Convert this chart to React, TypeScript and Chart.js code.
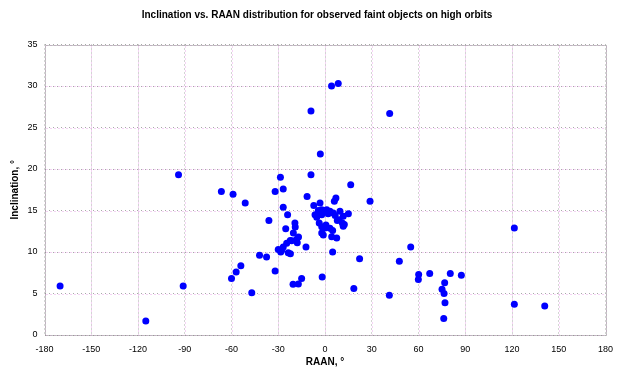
import React, { useEffect, useRef } from "react";
import { Chart, registerables } from "chart.js";

Chart.register(...registerables);

const TITLE = "Inclination vs. RAAN distribution for observed faint objects on high orbits";
const X_TITLE = "RAAN, °";
const Y_TITLE = "Inclination, °";

// RAAN (deg)
const raan: number[] = [
  -170, -115, -94, -91, -66.5, -59, -51.2, -54, -57, -60, -47, -42, -37.5, -36, -32, -32,
  -28.6, -26.8, -26.8, -24, -20.5, -17.1, -15, -9, -11.5, -7.2, -3.2, -3, -9, 4.2, 8.5, 41.5,
  -1.8, -12.2, 4.9, 7, 6, 16.5, 28.9, 15, 22.2, 18.5, 41.3, 47.7, 55, 60.1, 59.9, 67.2,
  80.4, 87.5, 76.8, 75.1, 76.4, 77, 76.2, 121.5, 121.5, 141,
  -25.2, -19.3, -19.1, -20.3, -17, -22.3, -17.8, -24.6, -26.8, -30, -27.8, -23.6, -22.2, -28.4, -18.2, -21.4,
  -6.4, -4.3, -2.1, -0.5, 1.1, 3.2, 5.3, -5.3, -2.1, 9.6, 11.7, 9.1, 11.1, 11.7, -3.7, -2.1,
  0.6, 3.2, 4.9, -2.1, -1.1, 4.3, 7.5, 7.9, 12.4, 0, -4, 2, 6.5,
];

// Inclination (deg)
const inclination: number[] = [
  5.9, 1.7, 19.3, 5.9, 17.3, 16.95, 15.9, 8.35, 7.6, 6.8, 5.1, 9.6, 9.4, 13.8, 7.7, 17.3,
  19.0, 17.6, 15.4, 14.5, 6.1, 6.15, 6.8, 19.3, 16.7, 15.6, 15.9, 21.8, 27.0, 30.0, 30.3, 26.7,
  7.0, 10.6, 10.0, 16.5, 16.1, 18.1, 16.1, 14.6, 9.2, 5.6, 4.8, 8.9, 10.6, 7.3, 6.7, 7.4,
  7.4, 7.2, 6.3, 5.5, 5.0, 3.9, 2.0, 12.9, 3.7, 3.5,
  12.8, 13.5, 13.0, 12.3, 11.8, 11.4, 11.1, 11.05, 10.6, 10.3, 10.2, 9.9, 9.8, 10.0, 11.55, 11.35,
  14.5, 15.0, 15.1, 15.0, 15.1, 14.9, 14.7, 14.2, 14.5, 14.9, 14.3, 13.9, 13.5, 13.1, 13.5, 13.05,
  13.25, 12.85, 12.6, 12.3, 12.05, 11.85, 11.7, 13.8, 13.3, 12.9, 14.7, 14.6, 14.4,
];

const X_MIN = -180, X_MAX = 180, X_STEP = 30;
const Y_MIN = 0, Y_MAX = 35, Y_STEP = 5;

const FONT = "'Liberation Sans', Arial, sans-serif";

export default function App() {
  const ref = useRef<HTMLCanvasElement | null>(null);

  useEffect(() => {
    document.body.style.margin = "0";
    const canvas = ref.current;
    if (!canvas) return;

    const points = raan.map((x, i) => ({ x, y: inclination[i] }));

    const pinkGrid = {
      id: "pinkGrid",
      beforeDatasetsDraw(chart: any) {
        const { ctx, chartArea, scales } = chart;
        ctx.save();
        ctx.strokeStyle = "#e8a8e8";
        ctx.lineWidth = 1;
        ctx.setLineDash([1, 3]);
        ctx.lineDashOffset = -2;
        scales.x.ticks.forEach((t: any) => {
          const px = Math.round(scales.x.getPixelForValue(t.value)) + 0.5;
          ctx.beginPath();
          ctx.moveTo(px, chartArea.top);
          ctx.lineTo(px, chartArea.bottom);
          ctx.stroke();
        });
        scales.y.ticks.forEach((t: any) => {
          const py = Math.round(scales.y.getPixelForValue(t.value)) + 0.5;
          ctx.beginPath();
          ctx.moveTo(chartArea.left, py);
          ctx.lineTo(chartArea.right, py);
          ctx.stroke();
        });
        // frame
        ctx.strokeStyle = "#8a8a8a";
        ctx.setLineDash([1, 1]);
        ctx.lineDashOffset = 0;
        const l = Math.round(chartArea.left) + 0.5;
        const r = Math.round(chartArea.right) + 0.5;
        const t = Math.round(chartArea.top) + 0.5;
        const b = Math.round(chartArea.bottom) + 0.5;
        ctx.strokeRect(l, t, r - l, b - t);
        ctx.restore();
      },
    };

    const titlePlugin = {
      id: "customTitle",
      afterDraw(chart: any) {
        const { ctx } = chart;
        ctx.save();
        ctx.font = `bold 10px ${FONT}`;
        ctx.fillStyle = "#000";
        ctx.textAlign = "center";
        ctx.textBaseline = "middle";
        ctx.fillText(TITLE, 317, 15);
        ctx.restore();
      },
    };

    const chart = new Chart(canvas, {
      type: "scatter",
      data: {
        datasets: [
          {
            data: points,
            backgroundColor: "#0000ff",
            borderColor: "#0000ff",
            borderWidth: 0,
            pointRadius: 3.5,
            pointHoverRadius: 3.5,
          },
        ],
      },
      options: {
        responsive: false,
        animation: false,
        layout: { padding: { top: 44.5, left: 0, right: 17.5, bottom: 0 } },
        plugins: {
          legend: { display: false },
          tooltip: { enabled: false },
          title: { display: false },
        },
        scales: {
          x: {
            type: "linear",
            min: X_MIN,
            max: X_MAX,
            afterFit(scale: any) {
              scale.height = 43;
            },
            ticks: {
              stepSize: X_STEP,
              color: "#000",
              padding: 9,
              font: { family: FONT, size: 9 },
            },
            grid: {
              color: "#a8a8a8",
              drawTicks: false,
            },
            border: { display: false, color: "#a8a8a8", dash: [1, 3], dashOffset: 0 },
            title: {
              display: true,
              text: X_TITLE,
              color: "#000",
              font: { family: FONT, size: 10, weight: "bold" },
              padding: { top: 0, bottom: 10 },
            },
          },
          y: {
            type: "linear",
            min: Y_MIN,
            max: Y_MAX,
            afterFit(scale: any) {
              scale.width = 44.5;
            },
            ticks: {
              stepSize: Y_STEP,
              color: "#000",
              padding: 7,
              font: { family: FONT, size: 9 },
            },
            grid: {
              color: "#a8a8a8",
              drawTicks: false,
            },
            border: { display: false, color: "#a8a8a8", dash: [1, 3], dashOffset: 0 },
            title: {
              display: true,
              text: Y_TITLE,
              color: "#000",
              font: { family: FONT, size: 10, weight: "bold" },
              padding: { top: 9, bottom: 0 },
            },
          },
        },
      } as any,
      plugins: [pinkGrid, titlePlugin],
    });

    return () => chart.destroy();
  }, []);

  return (
    <div style={{ position: "fixed", left: 0, top: 0, width: 623, height: 378, background: "#fff" }}>
      <canvas ref={ref} width={623} height={378} style={{ display: "block" }} />
    </div>
  );
}
